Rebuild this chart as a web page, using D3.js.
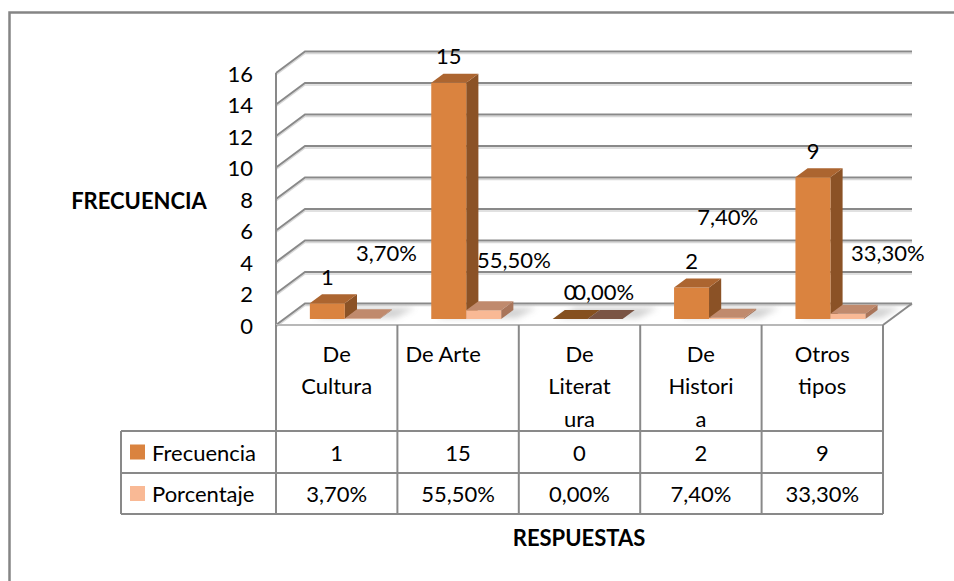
<!DOCTYPE html>
<html>
<head>
<meta charset="utf-8">
<script src="https://cdn.jsdelivr.net/npm/d3@7"></script>
<style>
  html, body { margin: 0; padding: 0; background: #fff; }
  svg { display: block; }
  text { font-family: Lato, "Open Sans", sans-serif; fill: #000; }
</style>
</head>
<body>
<svg id="chart" width="954" height="581"></svg>
<script>
// ---------- data ----------
const categories = ["De Cultura", "De Arte", "De Literatura", "De Historia", "Otros tipos"];
const headerLines = [["De", "Cultura"], ["De Arte"], ["De", "Literat", "ura"], ["De", "Histori", "a"], ["Otros", "tipos"]];
const frecuencia = [1, 15, 0, 2, 9];
const porcentaje = [0.037, 0.555, 0, 0.074, 0.333];
const frecLabels = ["1", "15", "0", "2", "9"];
const pctLabels = ["3,70%", "55,50%", "0,00%", "7,40%", "33,30%"];
const yTicks = [0, 2, 4, 6, 8, 10, 12, 14, 16];
const seriesNames = ["Frecuencia", "Porcentaje"];
// label anchors for percentage labels (band fraction, axis level) as Excel placed them
const pctLabelBandPos = [0.91, 0.96, 0.70, 0.72, 1.04];
const pctLabelLevel = [4.63, 4.13, 2.1, 6.86, 4.63];

// ---------- layout ----------
const svg = d3.select("#chart");
const x0 = 276, x1 = 883;        // front floor edge
const yFront0 = 325, yFront16 = 73;
const DX = 29, DY = -21.5;         // depth projection
const zBar0 = 0.28, zBar1 = 0.70;

const x = d3.scaleBand().domain(categories).range([x0, x1]).paddingInner(0).paddingOuter(0);
const y = d3.scaleLinear().domain([0, 16]).range([yFront0, yFront16]);
const P = (px, py, z) => [px + z * DX, py + z * DY];

const colors = {
  frec: { front: "#DA833F", top: "#AC6530", side: "#8B5226", zero: "#85501F" },
  pct:  { front: "#F9B995", top: "#C08A6D", side: "#A9755A", zero: "#7A5444" }
};
const gridColor = "#898989";
const fontSize = 22;

// outer border
svg.append("rect").attr("x", 9.5).attr("y", 12.5).attr("width", 1000).attr("height", 700)
  .attr("fill", "none").attr("stroke", "#858585").attr("stroke-width", 2.5);

// shadow filter
const defs = svg.append("defs");
defs.append("filter").attr("id", "blur").attr("x", "-50%").attr("y", "-50%").attr("width", "200%").attr("height", "200%")
  .append("feGaussianBlur").attr("stdDeviation", 3);

// floor
const floorPts = [P(x0, y(0), 0), P(x1, y(0), 0), P(x1, y(0), 1), P(x0, y(0), 1)];
svg.append("polygon").attr("points", floorPts.map(p => p.join(",")).join(" ")).attr("fill", "#fff");

// gridlines (left wall + back wall)
const grid = svg.append("g");
yTicks.forEach(t => {
  const a = P(x0, y(t), 0), b = P(x0, y(t), 1), c = P(x1, y(t), 1);
  grid.append("polyline").attr("points", [a, b, c].map(p => [p[0], p[1] + 2].join(",")).join(" "))
    .attr("fill", "none").attr("stroke", "#d8d8d8").attr("stroke-width", 1.5);
  grid.append("polyline").attr("points", [a, b, c].map(p => p.join(",")).join(" "))
    .attr("fill", "none").attr("stroke", gridColor).attr("stroke-width", 2);
});
// left wall front edge
grid.append("line").attr("x1", x0).attr("x2", x0).attr("y1", y(16)).attr("y2", y(0))
  .attr("stroke", gridColor).attr("stroke-width", 2);
// floor front & right edges
grid.append("line").attr("x1", x0).attr("x2", x1).attr("y1", y(0)).attr("y2", y(0))
  .attr("stroke", "#b8b8b8").attr("stroke-width", 2);
const fr0 = P(x1, y(0), 0), fr1 = P(x1, y(0), 1);
grid.append("line").attr("x1", fr0[0]).attr("y1", fr0[1]).attr("x2", fr1[0]).attr("y2", fr1[1])
  .attr("stroke", gridColor).attr("stroke-width", 2);

// y tick labels
svg.append("g").selectAll("text").data(yTicks).join("text")
  .attr("x", 253).attr("y", d => y(d)).attr("text-anchor", "end").attr("dominant-baseline", "central")
  .attr("font-size", fontSize).text(d => d);

// bars
const barW = x.bandwidth() * 0.288;
const groupOff = (x.bandwidth() - 2 * barW) / 2;
const bars = svg.append("g");

function drawBar(xl, v, c) {
  const xr = xl + barW;
  const yb = y(0), yt = y(v);
  const f = [P(xl, yt, zBar0), P(xr, yt, zBar0), P(xr, yb, zBar0), P(xl, yb, zBar0)];
  const top = [P(xl, yt, zBar0), P(xr, yt, zBar0), P(xr, yt, zBar1), P(xl, yt, zBar1)];
  const side = [P(xr, yt, zBar0), P(xr, yt, zBar1), P(xr, yb, zBar1), P(xr, yb, zBar0)];
  const pts = a => a.map(p => p.join(",")).join(" ");
  if (v === 0) {
    bars.append("polygon").attr("points", pts(top)).attr("fill", c.zero);
    return;
  }
  bars.append("polygon").attr("points", pts(side)).attr("fill", c.side);
  bars.append("polygon").attr("points", pts(f)).attr("fill", c.front);
  bars.append("polygon").attr("points", pts(top)).attr("fill", c.top);
}

// floor shadows
categories.forEach((cat) => {
  const xl = x(cat) + groupOff;
  const s = [P(xl + 4, y(0), zBar0 + 0.05), P(xl + 2 * barW + 14, y(0), zBar0 + 0.05), P(xl + 2 * barW + 20, y(0), zBar1 + 0.1), P(xl + 8, y(0), zBar1 + 0.1)];
  bars.append("polygon").attr("points", s.map(p => p.join(",")).join(" "))
    .attr("fill", "#9a9a9a").attr("opacity", 0.45).attr("filter", "url(#blur)");
});

categories.forEach((cat, i) => {
  const xl = x(cat) + groupOff;
  drawBar(xl, frecuencia[i], colors.frec);
  drawBar(xl + barW, porcentaje[i], colors.pct);
});

// data labels
const labels = svg.append("g").attr("font-size", fontSize);
categories.forEach((cat, i) => {
  const xl = x(cat) + groupOff;
  const p = P(xl + barW / 2, y(frecuencia[i]), (zBar0 + zBar1) / 2);
  labels.append("text").attr("x", p[0] - 6).attr("y", P(0, y(frecuencia[i]), zBar1)[1] - 18)
    .attr("text-anchor", "middle").attr("dominant-baseline", "central").text(frecLabels[i]);
  labels.append("text").attr("x", x(cat) + x.bandwidth() * pctLabelBandPos[i]).attr("y", y(pctLabelLevel[i]))
    .attr("text-anchor", "middle").attr("dominant-baseline", "central").text(pctLabels[i]);
});

// data table
const tLeft = 121, rowTop = 431, rowMid = 473, rowBot = 514;
const table = svg.append("g").attr("stroke", gridColor).attr("stroke-width", 2);
const bounds = [x0, ...categories.map(c => x(c) + x.bandwidth())];
bounds.forEach(bx => table.append("line").attr("x1", bx).attr("x2", bx).attr("y1", y(0)).attr("y2", rowBot));
[rowTop, rowMid, rowBot].forEach(ry => table.append("line").attr("x1", tLeft).attr("x2", x1).attr("y1", ry).attr("y2", ry));
table.append("line").attr("x1", tLeft).attr("x2", tLeft).attr("y1", rowTop).attr("y2", rowBot);

const tt = svg.append("g").attr("font-size", fontSize);
// header
categories.forEach((cat, i) => {
  const lines = headerLines[i];
  lines.forEach((ln, k) => {
    const single = lines.length === 1;
    tt.append("text")
      .attr("x", single ? x(cat) + 8 : x(cat) + x.bandwidth() / 2)
      .attr("y", 353 + k * 32.5)
      .attr("text-anchor", single ? "start" : "middle")
      .attr("dominant-baseline", "central").text(ln);
  });
});
// rows
const rowCenters = [(rowTop + rowMid) / 2, (rowMid + rowBot) / 2];
const rowVals = [frecLabels, pctLabels];
seriesNames.forEach((name, r) => {
  const c = r === 0 ? colors.frec.front : colors.pct.front;
  svg.append("rect").attr("x", 130).attr("y", rowCenters[r] - 7.5).attr("width", 15).attr("height", 15).attr("fill", c);
  tt.append("text").attr("x", 152).attr("y", rowCenters[r]).attr("dominant-baseline", "central").text(name);
  categories.forEach((cat, i) => {
    tt.append("text").attr("x", x(cat) + x.bandwidth() / 2).attr("y", rowCenters[r])
      .attr("text-anchor", "middle").attr("dominant-baseline", "central").text(rowVals[r][i]);
  });
});

// axis titles
svg.append("text").attr("x", 139).attr("y", 200).attr("text-anchor", "middle").attr("dominant-baseline", "central")
  .attr("font-size", fontSize).attr("font-weight", "bold").text("FRECUENCIA");
svg.append("text").attr("x", 579).attr("y", 537).attr("text-anchor", "middle").attr("dominant-baseline", "central")
  .attr("font-size", fontSize).attr("font-weight", "bold").text("RESPUESTAS");
</script>
</body>
</html>
